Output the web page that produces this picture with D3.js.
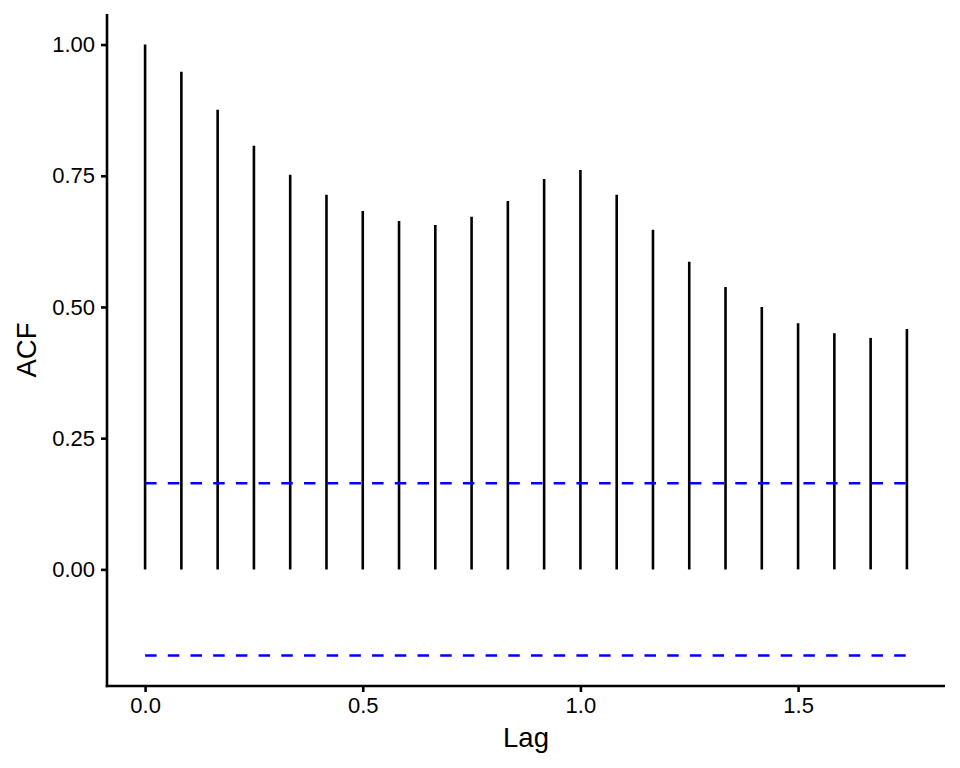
<!DOCTYPE html>
<html lang="en">
  <head>
    <meta charset="utf-8">
    <title>ACF</title>
    <style>
      html, body {
        margin: 0;
        background: white;
      }
      svg {
        display: block;
        font-family: "Liberation Sans", Arial, sans-serif;
      }
    </style>
    <script src="https://d3js.org/d3.v7.min.js"></script>
  </head>
  <body>
    <svg id="chart" width="960" height="768"></svg>
  <script>
  // lags in years (monthly, 0..21)
  const lags = d3.range(22).map(i => i / 12);
  const acfValues = [1.000, 0.948, 0.876, 0.807, 0.752, 0.714, 0.683, 0.664, 0.656, 0.672, 0.702,
                     0.744, 0.761, 0.714, 0.647, 0.586, 0.538, 0.500, 0.469, 0.450, 0.441, 0.458];
  const ciBound = 0.164;
  const xTicks = [0, 0.5, 1, 1.5];
  const yTicks = [0, 0.25, 0.5, 0.75, 1];

  const svg = d3.select('#chart');
  const panel = { left: 107, right: 945, top: 14, bottom: 686 };
  const lw = 2.6;

  const x = d3.scaleLinear().domain([-0.0875, 1.8375]).range([panel.left, panel.right]);
  const y = d3.scaleLinear().domain([-0.2222, 1.0582]).range([panel.bottom, panel.top]);

  // bars
  svg.append('g')
    .selectAll('line')
    .data(lags)
    .enter().append('line')
    .attr('x1', d => x(d))
    .attr('x2', d => x(d))
    .attr('y1', y(0))
    .attr('y2', (d, i) => y(acfValues[i]))
    .attr('stroke', 'black')
    .attr('stroke-width', lw);

  // confidence bounds
  svg.append('g')
    .selectAll('line')
    .data([ciBound, -ciBound])
    .enter().append('line')
    .attr('x1', x(lags[0]))
    .attr('x2', x(lags[lags.length - 1]))
    .attr('y1', d => y(d))
    .attr('y2', d => y(d))
    .attr('stroke', '#0000ff')
    .attr('stroke-width', lw)
    .attr('stroke-dasharray', '11.5,11.2');

  const xAxis = svg.append('g')
    .attr('transform', `translate(0,${panel.bottom})`)
    .call(d3.axisBottom(x).tickValues(xTicks).tickFormat(d3.format('.1f')).tickSize(6).tickPadding(5));
  const yAxis = svg.append('g')
    .attr('transform', `translate(${panel.left},0)`)
    .call(d3.axisLeft(y).tickValues(yTicks).tickFormat(d3.format('.2f')).tickSize(6).tickPadding(6));

  [xAxis, yAxis].forEach(a => {
    a.select('.domain').attr('stroke', 'black').attr('stroke-width', lw);
    a.selectAll('.tick line').attr('stroke', 'black').attr('stroke-width', lw);
    a.selectAll('.tick text')
      .attr('fill', '#000')
      .style('font-size', '22px')
      .style('font-family', '"Liberation Sans", Arial, sans-serif');
  });
  // trim domain line caps to the panel
  xAxis.select('.domain').attr('d', `M${panel.left - lw / 2},0H${panel.right}`);
  yAxis.select('.domain').attr('d', `M0,${panel.bottom + lw / 2}V${panel.top}`);

  svg.append('text')
    .attr('x', (panel.left + panel.right) / 2)
    .attr('y', 747)
    .attr('text-anchor', 'middle')
    .style('font-size', '27.5px')
    .text('Lag');

  svg.append('text')
    .attr('transform', `translate(36,${(panel.top + panel.bottom) / 2}) rotate(-90)`)
    .attr('text-anchor', 'middle')
    .style('font-size', '27.5px')
    .text('ACF');
  </script>
  </body>
</html>
